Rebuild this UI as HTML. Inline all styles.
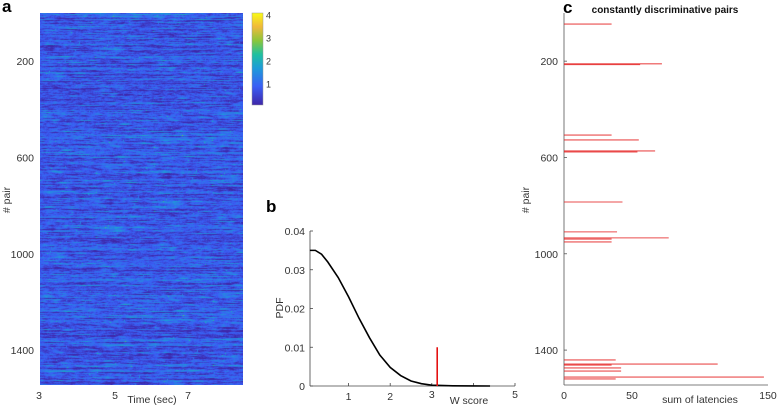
<!DOCTYPE html>
<html><head><meta charset="utf-8">
<style>
body{margin:0;background:#fff;width:778px;height:407px;overflow:hidden;font-family:"Liberation Sans",sans-serif;}
svg text{font-family:"Liberation Sans",sans-serif;fill:#333;}
</style></head><body>
<svg id="fig" width="778" height="407" viewBox="0 0 778 407">
  <text x="2" y="12" font-size="17" font-weight="bold" fill="#000" style="fill:#000">a</text>
  <foreignObject x="40" y="13" width="203" height="372">
    <canvas id="hm" width="203" height="372" xmlns="http://www.w3.org/1999/xhtml"></canvas>
  </foreignObject>
  <g id="axA"></g>
  <defs><linearGradient id="parula" x1="0" y1="1" x2="0" y2="0">
    <stop offset="0" stop-color="#3e26a8"/><stop offset="0.2" stop-color="#3a5ef5"/><stop offset="0.4" stop-color="#1e9bd9"/>
    <stop offset="0.55" stop-color="#1fc0a0"/><stop offset="0.7" stop-color="#8bc63a"/><stop offset="0.85" stop-color="#f0b93a"/><stop offset="1" stop-color="#f9fb15"/>
  </linearGradient></defs>
  <rect x="252" y="13" width="11" height="92" fill="url(#parula)" stroke="#999" stroke-width="0.5"/>
  <g id="cb"></g>
  <text x="266" y="212" font-size="17" font-weight="bold" style="fill:#000">b</text>
  <g id="axB"></g>
  <text x="563" y="13" font-size="17" font-weight="bold" style="fill:#000">c</text>
  <text x="665" y="13" font-size="10" font-weight="bold" text-anchor="middle" style="fill:#111">constantly discriminative pairs</text>
  <g id="axC"></g>
</svg>
<script>
// Panel b data
const wScore=[0.07,0.2,0.35,0.5,0.75,1,1.25,1.5,1.75,2,2.25,2.5,2.75,3,3.5,4,4.4];
const pdfVals=[0.035,0.035,0.034,0.032,0.028,0.023,0.0175,0.0125,0.008,0.0048,0.0027,0.0013,0.0006,0.0002,0.00005,0.00001,0];
const observedW=3.13, observedH=0.01;
const bXTicks=[1,2,3,4,5], bYTicks=[0,0.01,0.02,0.03,0.04];
// Panel c data
const pairIds=[46,211,214,507,527,573,577,785,909,934,939,951,1441,1458,1462,1474,1487,1512,1520];
const latencySums=[35,72,56,35,55,67,54,43,39,77,35,35,38,113,35,42,42,147,38];
const pairTicks=[200,600,1000,1400];
const cXTicks=[0,50,150];
const timeTicks=[3,5,7];
const cbTicks=[1,2,3,4];

const NS="http://www.w3.org/2000/svg";
function mk(p,t,a,txt){const e=document.createElementNS(NS,t);for(const k in a)e.setAttribute(k,a[k]);if(txt!==undefined)e.textContent=txt;p.appendChild(e);return e;}
const yPair=v=>13+v*(372/1545);

// Panel a axes
const axA=document.getElementById('axA');
pairTicks.forEach(v=>{const t=mk(axA,'text',{x:34,y:yPair(v)+4,'font-size':10.5,'text-anchor':'end'},v);

});
const timeX=[39,115,188];
timeTicks.forEach((v,i)=>{const t=mk(axA,'text',{x:timeX[i],y:399,'font-size':10.5,'text-anchor':'middle'},v);

});
let tl=mk(axA,'text',{x:152,y:403,'font-size':10.5,'text-anchor':'middle'},'Time (sec)');


let yl=mk(axA,'text',{x:10,y:200,'font-size':10.5,'text-anchor':'middle',transform:'rotate(-90 10 200)'},'# pair');


const cb=document.getElementById('cb');
cbTicks.forEach(v=>{const t=mk(cb,'text',{x:266,y:107-v*23+3.5,'font-size':9},v);

});

// heatmap texture
(function(){
 const c=document.getElementById('hm'),ctx=c.getContext('2d');
 let s=12345;const r=()=>(s=(s*1103515245+12345)%2147483648)/2147483648;
 const W=203,H=372,img=ctx.createImageData(W,H);
 const stops=[[0,62,38,168],[0.2,58,94,245],[0.4,30,155,217],[0.55,31,192,160],[0.7,139,198,58],[0.85,240,185,58],[1,249,251,21]];
 function col(t){t=Math.max(0,Math.min(1,t));for(let i=1;i<stops.length;i++)if(t<=stops[i][0]){const a=stops[i-1],b=stops[i],f=(t-a[0])/(b[0]-a[0]);return [a[1]+(b[1]-a[1])*f,a[2]+(b[2]-a[2])*f,a[3]+(b[3]-a[3])*f];}return stops[6].slice(1);}
 for(let y=0;y<H;y++){let v=0.5;const base=0.1+r()*0.17;
  for(let x=0;x<W;x++){v=v*0.85+r()*0.15;let t=base+(v-0.5)*0.9;if(r()<0.003)t+=0.25;
   const cc=col(t),i=(y*W+x)*4;img.data[i]=cc[0];img.data[i+1]=cc[1];img.data[i+2]=cc[2];img.data[i+3]=255;}}
 ctx.putImageData(img,0,0);
})();

// Panel b
const axB=document.getElementById('axB');
const bx=v=>307+v*41.6, by=v=>386-v*3875;
mk(axB,'line',{x1:310,y1:231,x2:310,y2:386,stroke:'#444','stroke-width':0.8});
mk(axB,'line',{x1:310,y1:386,x2:515,y2:386,stroke:'#444','stroke-width':0.8});
bYTicks.forEach(v=>{const t=mk(axB,'text',{x:305,y:by(v)+4,'font-size':10.5,'text-anchor':'end'},v);


mk(axB,'line',{x1:310,y1:by(v),x2:313,y2:by(v),stroke:'#444','stroke-width':0.8});});
bXTicks.forEach(v=>{const t=mk(axB,'text',{x:bx(v),y:v===3||v===5?398:400,'font-size':10.5,'text-anchor':'middle'},v===4?'':v);


mk(axB,'line',{x1:bx(v),y1:386,x2:bx(v),y2:383,stroke:'#444','stroke-width':0.8});});
let wl=mk(axB,'text',{x:469,y:404,'font-size':10.5,'text-anchor':'middle'},'W score');


let pl=mk(axB,'text',{x:283,y:308,'font-size':10.5,'text-anchor':'middle',transform:'rotate(-90 283 308)'},'PDF');


let cur=mk(axB,'polyline',{points:wScore.map((w,i)=>bx(w)+','+by(pdfVals[i])).join(' '),fill:'none',stroke:'#000','stroke-width':1.6});


let ob=mk(axB,'line',{x1:bx(observedW),y1:by(0),x2:bx(observedW),y2:by(observedH),stroke:'#e41010','stroke-width':1.6});



// Panel c
const axC=document.getElementById('axC');
const cx=v=>564+v*1.36;
mk(axC,'line',{x1:564,y1:13,x2:564,y2:385,stroke:'#555','stroke-width':0.8});
mk(axC,'line',{x1:564,y1:385,x2:768,y2:385,stroke:'#555','stroke-width':0.8});
pairTicks.forEach(v=>{const t=mk(axC,'text',{x:558,y:yPair(v)+4,'font-size':10.5,'text-anchor':'end'},v);


mk(axC,'line',{x1:564,y1:yPair(v),x2:567,y2:yPair(v),stroke:'#555','stroke-width':0.8});});
cXTicks.forEach(v=>{const t=mk(axC,'text',{x:cx(v),y:399,'font-size':10.5,'text-anchor':'middle'},v);

});
let sl=mk(axC,'text',{x:700,y:403,'font-size':10.5,'text-anchor':'middle'},'sum of latencies');


let pc=mk(axC,'text',{x:529,y:200,'font-size':10.5,'text-anchor':'middle',transform:'rotate(-90 529 200)'},'# pair');


pairIds.forEach((p,i)=>{const b=mk(axC,'line',{x1:564,y1:yPair(p),x2:cx(latencySums[i]),y2:yPair(p),stroke:'#e52222','stroke-width':1.1,'stroke-opacity':0.8});

});
</script>
</body></html>
